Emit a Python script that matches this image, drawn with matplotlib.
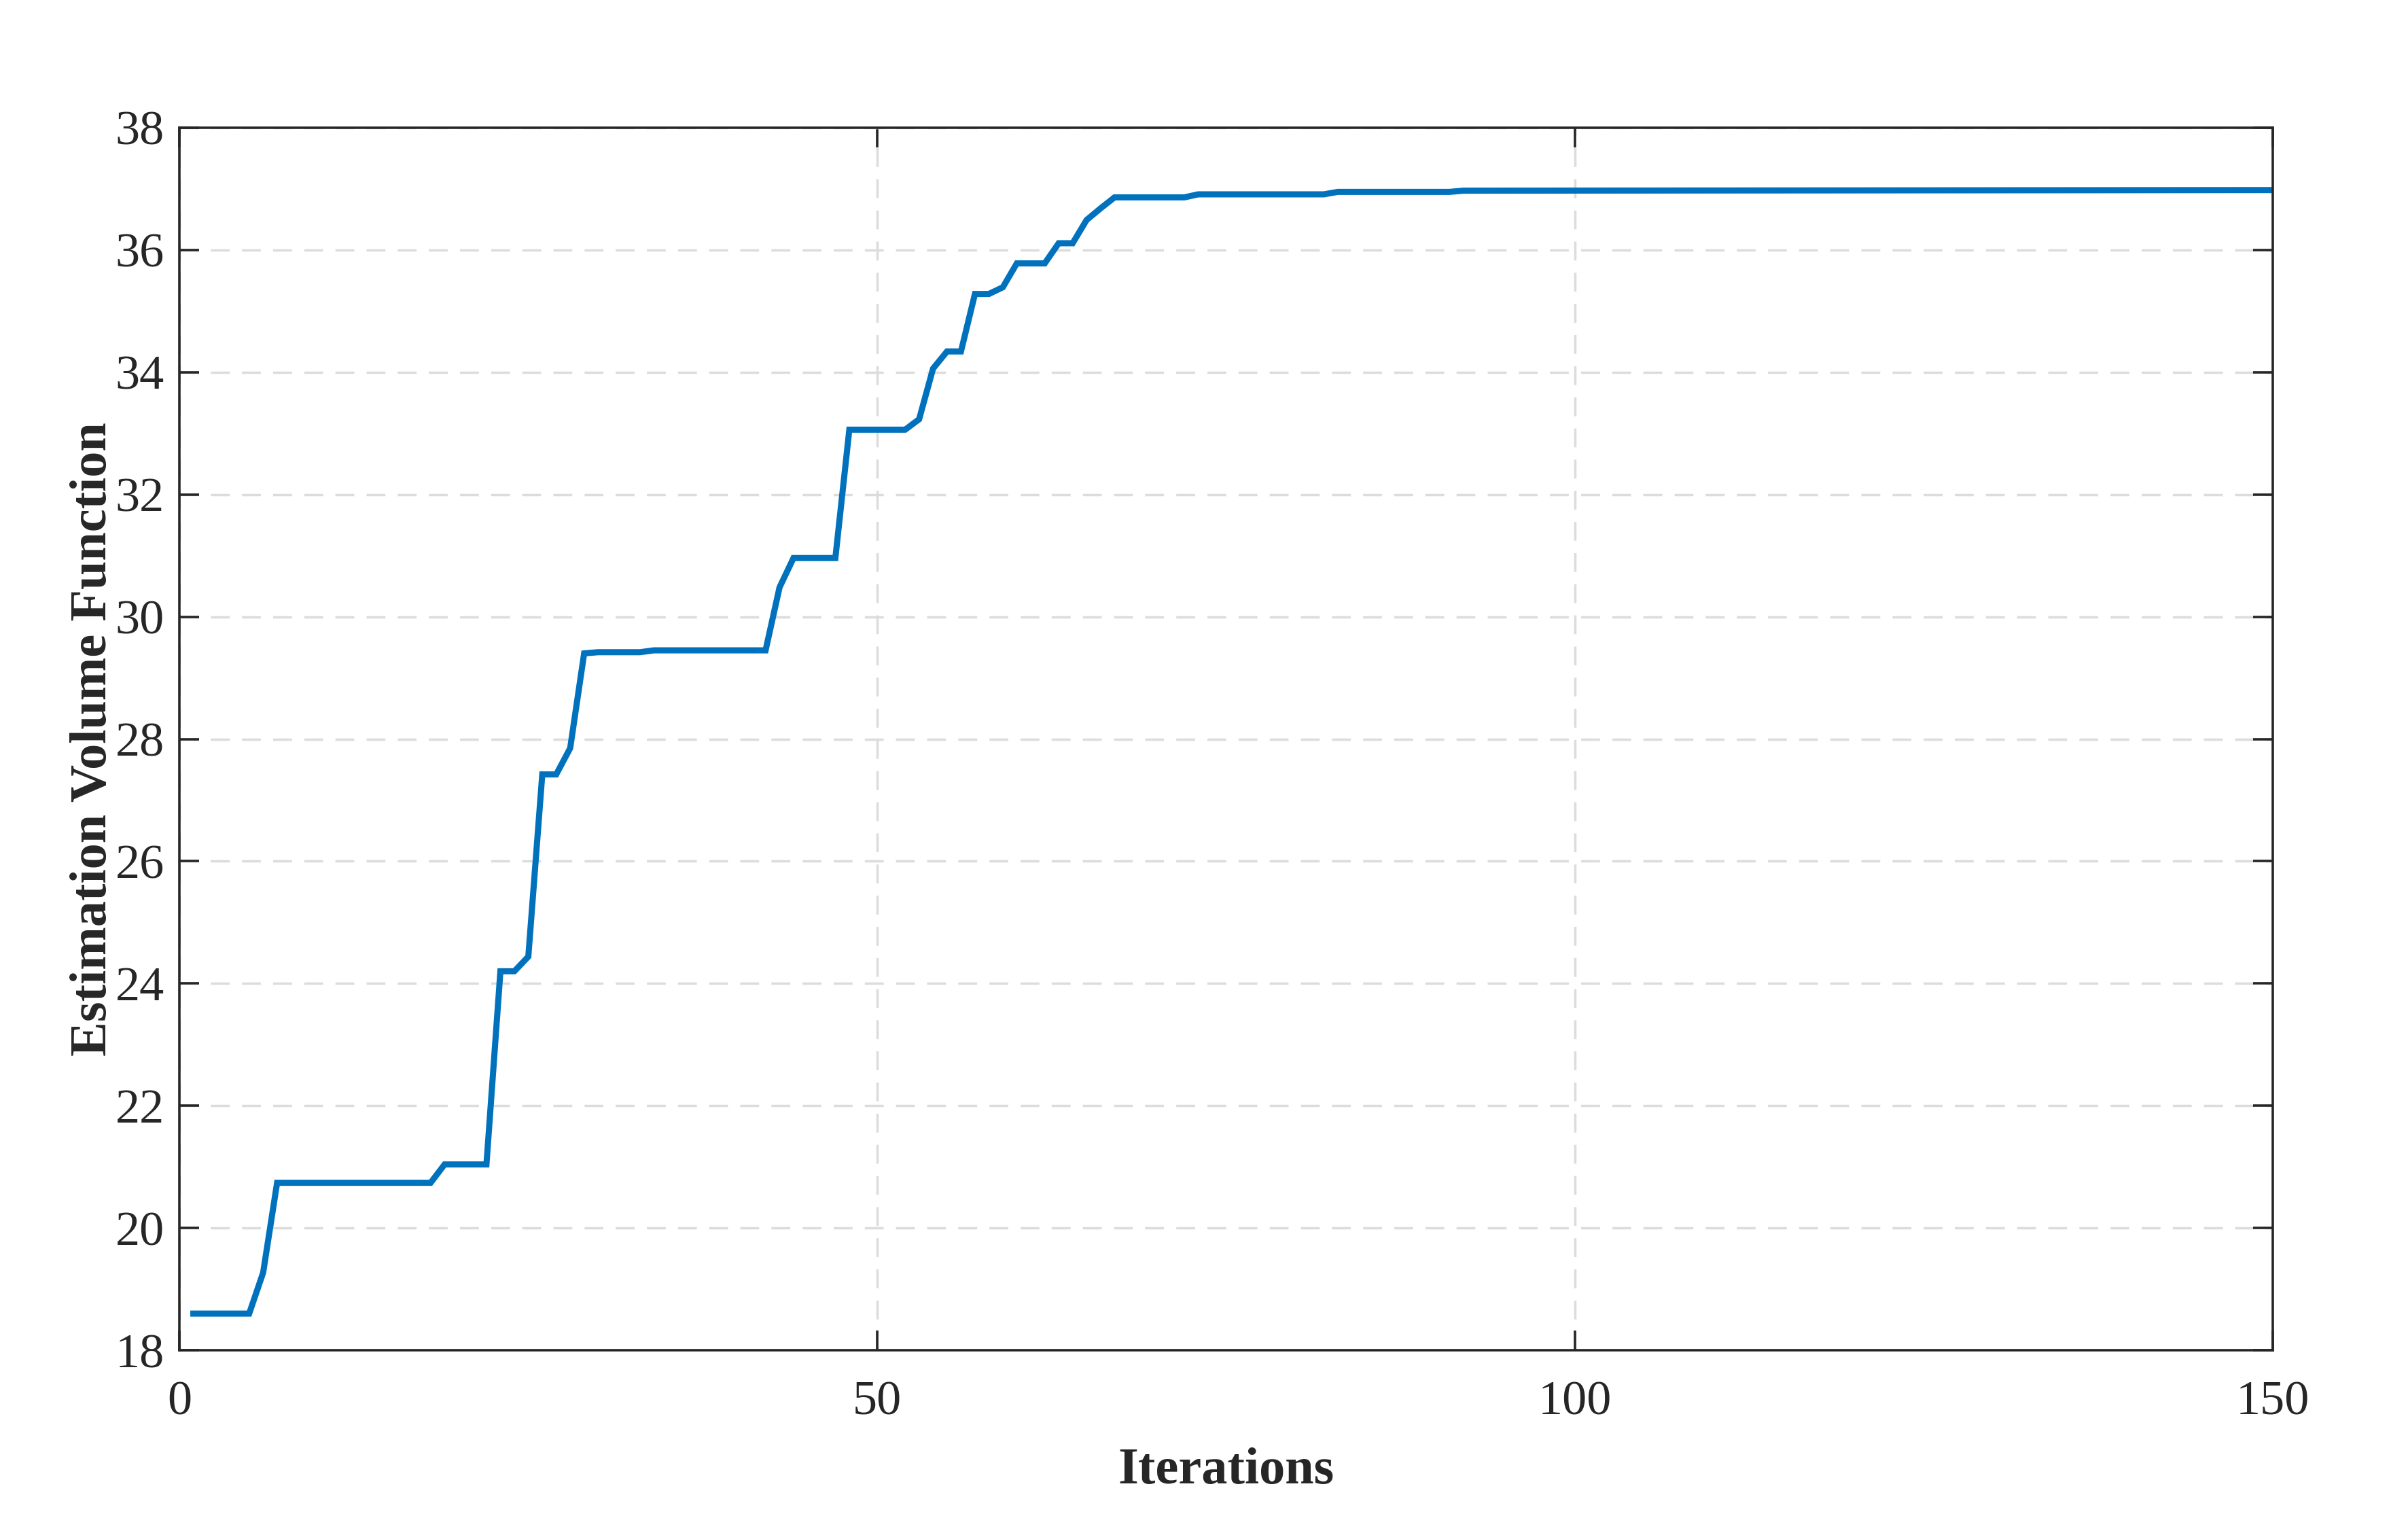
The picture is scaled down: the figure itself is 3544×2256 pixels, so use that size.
import matplotlib
matplotlib.use('Agg')
import matplotlib.pyplot as plt

# step vertices of the convergence curve (iteration, value)
iters = [1, 5, 6, 7, 18, 19, 22, 23, 24, 25, 26, 27, 28, 29, 30, 33, 34, 42, 43, 44, 47,
         48, 52, 53, 54, 55, 56, 57, 58, 59, 60, 62, 63, 64, 65, 66, 67, 72, 73, 82, 83,
         91, 92, 150]
volume = [18.60, 18.60, 19.27, 20.74, 20.74, 21.04, 21.04, 24.20, 24.20, 24.44, 27.42,
          27.42, 27.85, 29.40, 29.42, 29.42, 29.45, 29.45, 30.48, 30.96, 30.96, 33.06,
          33.06, 33.23, 34.06, 34.34, 34.34, 35.28, 35.28, 35.39, 35.78, 35.78, 36.11,
          36.11, 36.49, 36.68, 36.86, 36.86, 36.91, 36.91, 36.95, 36.95, 36.97, 36.98]
xticks = [0, 50, 100, 150]
yticks = [18, 20, 22, 24, 26, 28, 30, 32, 34, 36, 38]

plt.rcParams.update({'font.family': ['Liberation Serif', 'DejaVu Serif'],
                     'text.color': '#262626', 'axes.labelcolor': '#262626'})
fig = plt.figure(figsize=(35.44, 22.56), dpi=100)
ax = fig.add_axes([0.0745, 0.1192, 0.8694, 0.7975])

ax.plot(iters, volume, color='#0072BD', lw=6.5, solid_joinstyle='miter')
ax.set_xlim(0, 150); ax.set_ylim(18, 38)
ax.set_xticks(xticks); ax.set_yticks(yticks)
ax.grid(True, color='#dcdcdc', lw=2.5, ls=(0, (8, 5.2)))
ax.set_axisbelow(True)
for s in ax.spines.values():
    s.set_linewidth(2.6); s.set_color('#262626')
ax.tick_params(direction='in', length=21, width=2.6, colors='#262626', labelsize=52,
               top=True, right=True)
ax.tick_params(axis='y', pad=16)
ax.tick_params(axis='x', pad=32)
ax.set_xlabel('Iterations', fontsize=55, fontweight='bold', labelpad=24)
ax.set_ylabel('Estimation Volume Function', fontsize=55, fontweight='bold', labelpad=-2)

fig.savefig('out.png', dpi=100, facecolor='white')
